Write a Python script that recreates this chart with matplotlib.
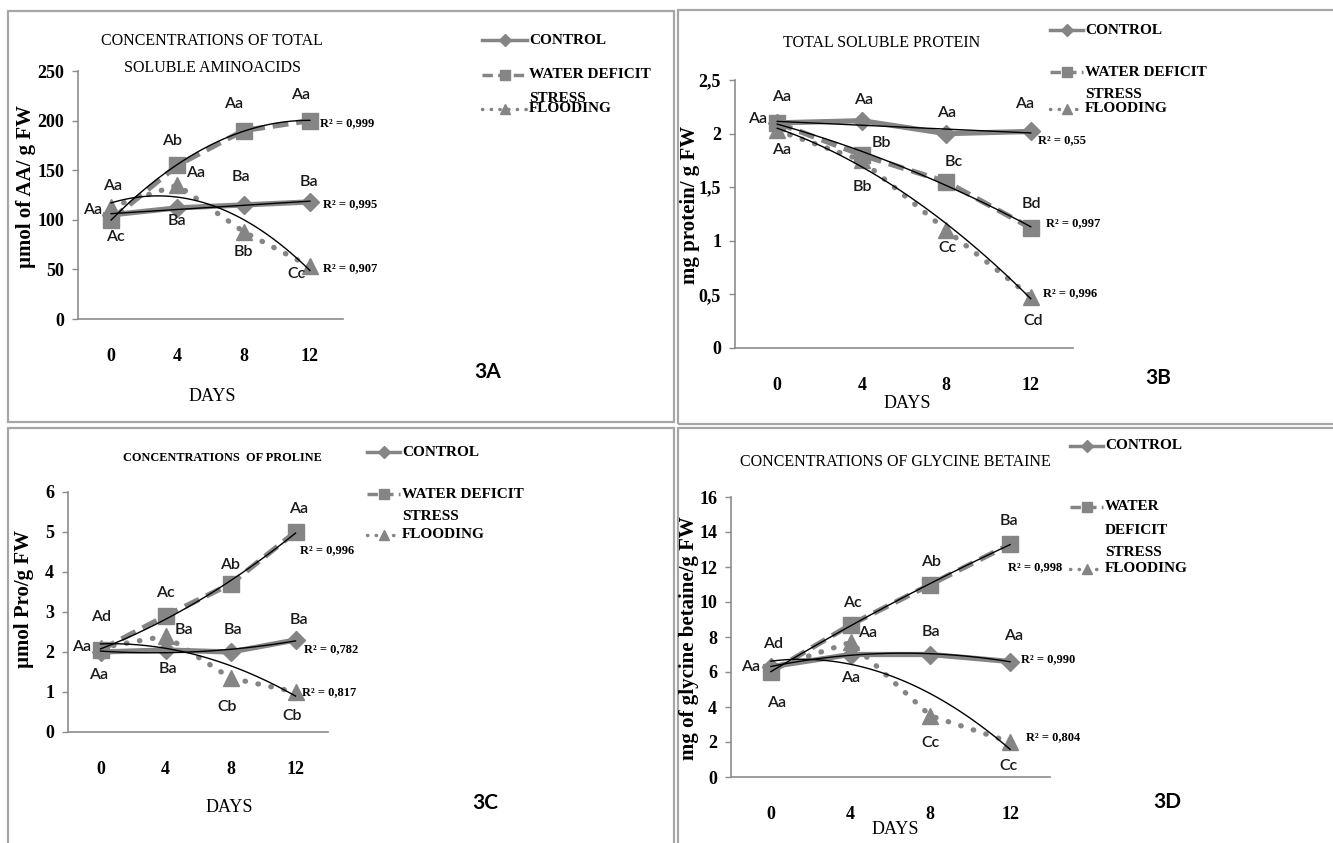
import numpy as np
import matplotlib.pyplot as plt
from matplotlib.lines import Line2D
from matplotlib.patches import Rectangle

W, H = 1333, 843

days = ["0", "4", "8", "12"]
names = ["CONTROL", "WATER DEFICIT", "FLOODING"]

# 3A - total soluble aminoacids
aa_control = [105, 112, 115, 118]
aa_water = [100, 155, 190, 200]
aa_flood = [113, 135, 88, 53]
aa_r2 = ["R² = 0,995", "R² = 0,999", "R² = 0,907"]

# 3B - total soluble protein
prot_control = [2.1, 2.12, 2.0, 2.02]
prot_water = [2.1, 1.8, 1.55, 1.12]
prot_flood = [2.03, 1.75, 1.1, 0.48]
prot_r2 = ["R² = 0,55", "R² = 0,997", "R² = 0,996"]

# 3C - proline
pro_control = [2.0, 2.05, 2.0, 2.3]
pro_water = [2.05, 2.9, 3.7, 5.0]
pro_flood = [2.1, 2.4, 1.35, 1.0]
pro_r2 = ["R² = 0,782", "R² = 0,996", "R² = 0,817"]

# 3D - glycine betaine
gb_control = [6.3, 7.0, 7.0, 6.6]
gb_water = [6.0, 8.7, 11.0, 13.3]
gb_flood = [6.2, 7.7, 3.5, 2.0]
gb_r2 = ["R² = 0,990", "R² = 0,998", "R² = 0,804"]

# significance letters: (series, day index, text, dx px, dy px down)
aa_letters = [(0, 0, "Aa", -19, -5), (2, 0, "Aa", 1, -21), (1, 0, "Ac", 4, 17),
              (1, 1, "Ab", -5, -24), (2, 1, "Aa", 18, -12), (0, 1, "Ba", 0, 13),
              (1, 2, "Aa", -10, -27), (0, 2, "Ba", -3, -28), (2, 2, "Bb", 0, 20),
              (1, 3, "Aa", -9, -26), (0, 3, "Ba", -1, -20), (2, 3, "Cc", -13, 8)]
prot_letters = [(0, 0, "Aa", -20, -4), (1, 0, "Aa", 4, -26), (2, 0, "Aa", 4, 20),
                (0, 1, "Aa", 2, -21), (1, 1, "Bb", 20, -12), (2, 1, "Bb", 1, 27),
                (0, 2, "Aa", 0, -21), (1, 2, "Bc", 8, -20), (2, 2, "Cc", 1, 18),
                (0, 3, "Aa", -6, -27), (1, 3, "Bd", 1, -24), (2, 3, "Cd", 2, 24)]
pro_letters = [(0, 0, "Aa", -19, -5), (1, 0, "Ad", 1, -33), (0, 0, "Aa", -2, 23),
               (1, 1, "Ac", 0, -23), (2, 1, "Ba", 18, -6), (0, 1, "Ba", 2, 19),
               (1, 2, "Ab", 0, -19), (0, 2, "Ba", 2, -22), (2, 2, "Cb", -3, 29),
               (1, 3, "Aa", 3, -23), (0, 3, "Ba", 3, -20), (2, 3, "Cb", -3, 24)]
gb_letters = [(0, 0, "Aa", -20, 0), (2, 0, "Ad", 2, -25), (1, 0, "Aa", 6, 31),
              (1, 1, "Ac", 2, -22), (2, 1, "Aa", 17, -9), (0, 1, "Aa", 0, 24),
              (1, 2, "Ab", 1, -22), (0, 2, "Ba", 1, -23), (2, 2, "Cc", 0, 27),
              (1, 3, "Ba", -1, -23), (0, 3, "Aa", 3, -26), (2, 3, "Cc", -2, 24)]

GRAY = "#858585"
SERIF = "Liberation Serif"
SANS = "Lato"

fig = plt.figure(figsize=(W / 100, H / 100), dpi=100)


def fpos(x, y):
    return x / W, 1 - y / H


def ftext(x, y, s, **kw):
    fig.text(x / W, 1 - y / H, s, ha=kw.pop("ha", "center"),
             va=kw.pop("va", "center"), **kw)


styles = [dict(ls="-", marker="D", ms=9),
          dict(ls=(0, (3, 1.5)), marker="s", ms=12),
          dict(ls=(0, (0.1, 2.4)), marker="^", ms=11, dash_capstyle="round")]

panels = [
    dict(box=(8, 11, 674, 422), ax=(78, 71, 343, 319), ylim=250, yticks=[0, 50, 100, 150, 200, 250],
         ylabels=["0", "50", "100", "150", "200", "250"],
         data=[aa_control, aa_water, aa_flood], deg=[1, 2, 2], letters=aa_letters,
         r2=aa_r2, r2pos=[(350, 204), (347, 123), (350, 268)],
         title=["CONCENTRATIONS OF TOTAL", "SOLUBLE AMINOACIDS"], tpos=(212, [41, 68]), tsize=11.5, tweight="normal",
         ylab="µmol of AA/ g FW", ylpos=(26, 187), days=(212, 397), tag="3A", tagpos=(488, 372),
         leg=(482, 527, [40, 75, 109]), stress=[(99, "STRESS")]),
    dict(box=(678, 10, 1345, 424), ax=(735, 80, 1073, 348), ylim=2.5, yticks=[0, 0.5, 1, 1.5, 2, 2.5],
         ylabels=["0", "0,5", "1", "1,5", "2", "2,5"],
         data=[prot_control, prot_water, prot_flood], deg=[1, 2, 2], letters=prot_letters,
         r2=prot_r2, r2pos=[(1062, 140), (1073, 223), (1070, 293)],
         title=["TOTAL SOLUBLE PROTEIN"], tpos=(882, [43]), tsize=11.5, tweight="normal",
         ylab="mg protein/ g FW", ylpos=(690, 205), days=(907, 404), tag="3B", tagpos=(1158, 378),
         leg=(1050, 1083, [30, 72, 109]), stress=[(94, "STRESS")]),
    dict(box=(8, 428, 674, 850), ax=(68, 492, 328, 732), ylim=6, yticks=[0, 1, 2, 3, 4, 5, 6],
         ylabels=["0", "1", "2", "3", "4", "5", "6"],
         data=[pro_control, pro_water, pro_flood], deg=[2, 2, 2], letters=pro_letters,
         r2=pro_r2, r2pos=[(331, 649), (327, 550), (329, 692)],
         title=["CONCENTRATIONS  OF PROLINE"], tpos=(222, [458]), tsize=8.8, tweight="bold",
         ylab="µmol Pro/g FW", ylpos=(24, 599), days=(229, 807), tag="3C", tagpos=(485, 803),
         leg=(367, 400, [452, 494, 535]), stress=[(517, "STRESS")]),
    dict(box=(678, 428, 1345, 850), ax=(731, 497, 1050, 777), ylim=16, yticks=[0, 2, 4, 6, 8, 10, 12, 14, 16],
         ylabels=["0", "2", "4", "6", "8", "10", "12", "14", "16"],
         data=[gb_control, gb_water, gb_flood], deg=[2, 2, 2], letters=gb_letters,
         r2=gb_r2, r2pos=[(1048, 659), (1035, 567), (1053, 737)],
         title=["CONCENTRATIONS OF GLYCINE BETAINE"], tpos=(895, [462]), tsize=11.5, tweight="normal",
         ylab="mg of glycine betaine/g FW", ylpos=(689, 638), days=(895, 830), tag="3D", tagpos=(1167, 802),
         leg=(1070, 1103, [446, 507, 569]), stress=[(531, "DEFICIT"), (552, "STRESS")]),
]

x = np.arange(len(days))
xs = np.linspace(0, 3, 100)

for p in panels:
    bx0, by0, bx1, by1 = p["box"]
    fig.add_artist(Rectangle(fpos(bx0, by1), (bx1 - bx0) / W, (by1 - by0) / H,
                             transform=fig.transFigure, fill=False, ec="#a6a6a6", lw=1.6))

    l, t, r, b = p["ax"]
    ax = fig.add_axes([l / W, 1 - b / H, (r - l) / W, (b - t) / H])
    ax.set_xlim(-0.5, 3.5)
    ax.set_ylim(0, p["ylim"])
    ax.set_xticks(x)
    ax.set_xticklabels(days, fontfamily=SERIF, fontweight="bold", fontsize=13)
    ax.set_yticks(p["yticks"])
    ax.set_yticklabels(p["ylabels"], fontfamily=SERIF, fontweight="bold", fontsize=13)
    ax.tick_params(axis="x", length=0, pad=21)
    ax.tick_params(axis="y", length=4, width=1, color="#8c8c8c", pad=6)
    for s in ["top", "right"]:
        ax.spines[s].set_visible(False)
    for s in ["left", "bottom"]:
        ax.spines[s].set_color("#8c8c8c")
        ax.spines[s].set_linewidth(1.2)
    ax.patch.set_alpha(0)

    for k, vals in enumerate(p["data"]):
        ax.plot(x, vals, color=GRAY, lw=3.8, mec=GRAY, mfc=GRAY, clip_on=False, zorder=3, **styles[k])
    for k, vals in enumerate(p["data"]):
        coef = np.polyfit(x, vals, p["deg"][k])
        ax.plot(xs, np.polyval(coef, xs), color="black", lw=1, zorder=5, clip_on=False)

    for s, i, txt, dx, dy in p["letters"]:
        ax.annotate(txt, xy=(i, p["data"][s][i]), xytext=(dx, -dy), textcoords="offset pixels",
                    ha="center", va="center", fontfamily=SANS, fontweight="semibold",
                    fontsize=11.5, color="#1a1a1a", zorder=6)

    for txt, (rx, ry) in zip(p["r2"], p["r2pos"]):
        ftext(rx, ry, txt, fontfamily=SERIF, fontweight="bold", fontsize=9)

    tx, tys = p["tpos"]
    for line, ty in zip(p["title"], tys):
        ftext(tx, ty, line, fontfamily=SERIF, fontsize=p["tsize"], fontweight=p["tweight"])
    ftext(p["ylpos"][0], p["ylpos"][1], p["ylab"], rotation=90, fontfamily=SERIF,
          fontweight="bold", fontsize=15)
    ftext(p["days"][0], p["days"][1], "DAYS", fontfamily=SERIF, fontsize=13)
    ftext(p["tagpos"][0], p["tagpos"][1], p["tag"], fontfamily=SANS, fontweight="bold", fontsize=15)

    # legend
    lx0, lx1, lys = p["leg"]
    for k, ly in enumerate(lys):
        st = styles[k]
        fig.add_artist(Line2D([lx0 / W, lx1 / W], [1 - ly / H] * 2, transform=fig.transFigure,
                              color=GRAY, lw=2.5, ls=st["ls"],
                              dash_capstyle=st.get("dash_capstyle", "butt")))
        fig.add_artist(Line2D([(lx0 + lx1) / 2 / W], [1 - ly / H], transform=fig.transFigure,
                              color=GRAY, marker=st["marker"], ms=st["ms"] * 0.65, ls="none"))
        label = names[k]
        if p["tag"] == "3D" and k == 1:
            label = "WATER"
        ftext(lx1 + 2, ly, label, ha="left", fontfamily=SERIF, fontweight="bold", fontsize=11)
    for sy, st in p["stress"]:
        ftext(lx1 + 2, sy, st, ha="left", fontfamily=SERIF, fontweight="bold", fontsize=11)

fig.savefig("out.png", dpi=100)
